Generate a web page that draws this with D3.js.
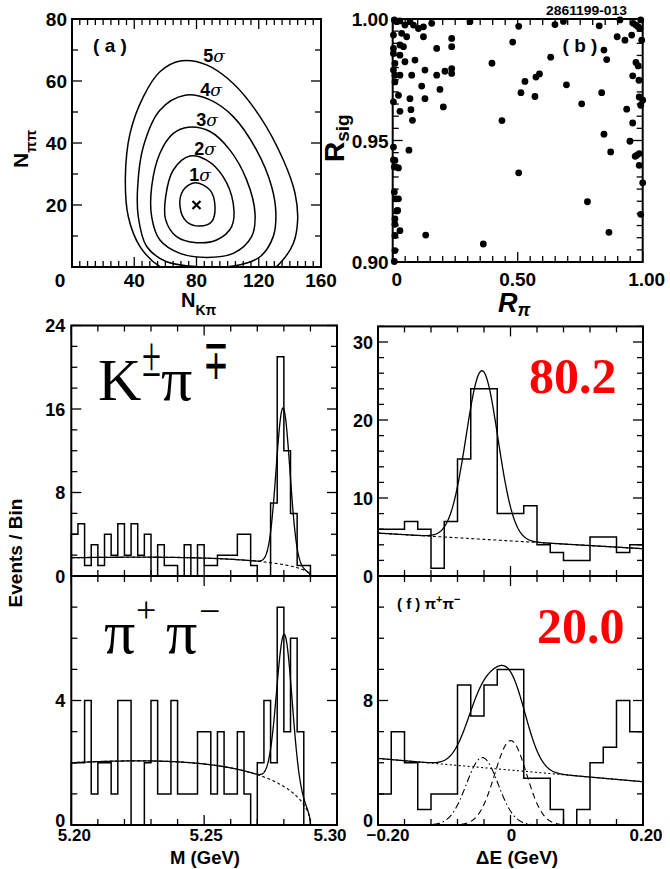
<!DOCTYPE html>
<html>
<head>
<meta charset="utf-8">
<script src="https://cdn.jsdelivr.net/npm/d3@7"></script>
<style>
  body { margin: 0; background: #fff; }
  svg { display: block; }
  text { font-family: "Liberation Sans", Arial, sans-serif; font-weight: bold; fill: #000; }
  .serif { font-family: "Liberation Serif", "Times New Roman", serif; font-weight: normal; }
  .serif.big { font-weight: bold; fill: #ff0000; }
</style>
</head>
<body>
<svg id="chart" width="670" height="869"></svg>
<script>
// ---------- data ----------

// (a) likelihood contours, [N_Kpi, N_pipi]
const contour1 = [[79,27.2],[88.7,24.8],[91.9,19.5],[89.7,14.6],[82.2,13.2],[73.7,14.6],[69.4,19.5],[71.5,24.8]];
const contour2 = [[75.8,35.8],[86.5,34.5],[97.2,29.1],[103.6,20.5],[102.6,13],[92.9,8.7],[80.1,7.85],[67.2,9.8],[60.2,15.2],[60.2,22.7],[65.1,31.3]];
const contour3 = [[74.7,45.1],[88.7,43.7],[101.5,37.7],[112.2,28.1],[117.6,17.3],[115.4,9.8],[103.6,4.4],[86.5,3.1],[69.4,4.4],[56.5,8.7],[51.2,16.2],[51.2,25.9],[56.5,36.7],[65.1,43.1]];
const contour4 = [[72.6,55.4],[88.7,53.9],[103.6,48.5],[118.6,37.7],[128.3,25.9],[131,17.3],[129.3,9.8],[120.8,3.3],[103.6,0.3],[82.2,0.1],[60.8,1.7],[48,6.6],[42.6,16.2],[42.2,25.9],[45.8,38.8],[56.5,50.6]];
const contour5 = [[70.4,66.5],[86.5,65.2],[103.6,59.2],[120.8,48.5],[135.8,34.5],[143.3,23.8],[145,15.2],[142.2,7.6],[133.6,1.2],[125,-2],[93,-6],[56.5,0.1],[43.7,6.6],[36.2,16.2],[34.3,29.1],[37.3,43.1],[45.8,54.9],[56.5,63]];
const contours = [contour1, contour2, contour3, contour4, contour5];
const sigmaLabels = ["1", "2", "3", "4", "5"];
const bestFit = [80, 20];

// (b) events, [R_pi, R_sig]
const events = [
  [0.0065,0.9996],[0.016,0.9989],[0.029,0.9992],[0.049,0.9975],[0.069,0.9989],[0.083,0.9975],[0.103,0.9961],
  [0.123,0.9968],[0.156,0.9982],[0.309,0.9989],[0.003,0.9934],[0.036,0.9941],[0.056,0.9927],[0.123,0.9927],
  [0.236,0.992],[0.003,0.9879],[0.029,0.9893],[0.043,0.9886],[0.176,0.9879],[0.236,0.9886],[0.003,0.9858],
  [0.029,0.9851],[0.089,0.9831],[0.009,0.9817],[0.049,0.9824],[0.003,0.979],[0.029,0.9769],[0.076,0.9769],
  [0.129,0.979],[0.176,0.9769],[0.209,0.9785],[0.236,0.9796],[0.236,0.9776],[0.009,0.9769],[0.009,0.9741],
  [0.116,0.9724],[0.189,0.971],[0.023,0.9686],[0.069,0.9672],[0.129,0.9672],[0.003,0.9659],[0.029,0.962],
  [0.073,0.9627],[0.2025,0.9638],[0.079,0.9583],[0.003,0.9473],[0.065,0.946],[0.009,0.9418],[0.0065,0.9391],
  [0.023,0.9387],[0.003,0.942],[0.0065,0.9288],[0.012,0.926],[0.023,0.926],[0.02,0.9212],[0.016,0.921],
  [0.009,0.9177],[0.009,0.9155],[0.029,0.9129],[0.009,0.9109],[0.132,0.9111],[0.009,0.9047],[0.0065,0.9002],
  [0.3625,0.9074],[0.397,0.9818],[0.437,0.9582],[0.48,0.9905],[0.504,0.997],[0.504,0.9367],[0.529,0.9743],
  [0.513,0.9697],[0.569,0.9681],[0.573,0.9761],[0.587,0.9774],[0.632,0.9843],[0.649,0.9977],[0.683,0.999],
  [0.695,0.9729],[0.756,0.9651],[0.779,0.9248],[0.826,0.9972],[0.909,0.9996],[0.962,0.9982],[0.982,0.9968],
  [0.992,0.9996],[0.989,0.9961],[0.973,0.9975],[0.898,0.9927],[0.929,0.9913],[0.956,0.9934],[0.996,0.9913],
  [0.845,0.9872],[0.856,0.9833],[0.973,0.9821],[0.982,0.9807],[0.96,0.9766],[0.985,0.9748],[0.836,0.9697],
  [0.986,0.9679],[1.0,0.9666],[0.992,0.9645],[0.936,0.9629],[0.96,0.9572],[0.845,0.9526],[0.949,0.9497],
  [0.872,0.9453],[0.976,0.9439],[0.986,0.9446],[0.970,0.9435],[0.986,0.9398],[1.0,0.9326],[0.992,0.9196],
  [0.865,0.9122]
];

// (c),(e) beam-constrained mass histograms, 40 bins 5.20-5.30 GeV
const massRange = [5.20, 5.30];
const kpiMass  = [4,5,1,3,1,4,2,5,2,5,2,4,0,3,1,1,0,3,0,3,1,1,2,2,2,4,4,1,0,0,7,21,12,6,1,1,0,0,0,0];
const pipiMass = [2,2,4,1,2,2,1,4,4,0,0,2,4,1,1,4,1,1,1,3,3,1,3,1,1,3,1,0,2,4,2,7,3,6,3,0,0,0,0,0];

// (d),(f) Delta E histograms, 20 bins -0.20..0.20 GeV
const deRange = [-0.20, 0.20];
const kpiDE  = [6,6,7,6,1,7,15,24,24,8,8,9,4,3,2,2,5,5,3,4];
const pipiDE = [2,6,4,1,2,2,9,7,9,10,10,3,3,1,0,1,4,5,8,6];

// fit parameters: ARGUS endpoint/shape, bkg level at 5.20, peak [mean, sigma, height]
const argus = [5.29, 20];
const kpiMassBkg = 1.75, kpiMassPeak = [5.2797, 0.0026, 15.0];
const pipiMassBkg = 2.0, pipiMassPeak = [5.2802, 0.0029, 4.9];
// Delta E: linear bkg [at -0.2, at 0.2], gaussians [mean, sigma, height]
const kpiDEBkg = [5.5, 3.5], kpiDEPeak = [-0.043, 0.024, 21.6];
const pipiDEBkg = [4.28, 2.78], pipiDEKpi = [-0.0426, 0.024, 4.33], pipiDESig = [0.0003, 0.024, 5.42];

// ---------- helpers ----------
const svg = d3.select("#chart");

function makePanel(x0, x1, y0, y1, xDom, yDom) {
  return {
    x: d3.scaleLinear().domain(xDom).range([x0, x1]),
    y: d3.scaleLinear().domain(yDom).range([y1, y0]),
    x0, x1, y0, y1
  };
}

function isMultiple(v, step, origin) {
  const r = (v - origin) / step;
  return Math.abs(r - Math.round(r)) < 1e-6;
}

function drawFrame(p, xStep, xMajor, yStep, yMajor) {
  const g = svg.append("g").attr("stroke", "#000").attr("fill", "none");
  const [xa, xb] = p.x.domain(), [ya, yb] = p.y.domain();
  const xt = d3.range(xa, xb + xStep / 2, xStep);
  const yt = d3.range(ya, yb + yStep / 2, yStep);
  xt.forEach(v => {
    const len = isMultiple(v, xMajor, 0) ? 10 : 6;
    const px = p.x(v);
    g.append("line").attr("x1", px).attr("x2", px).attr("y1", p.y1).attr("y2", p.y1 - len).attr("stroke-width", 1.3);
    g.append("line").attr("x1", px).attr("x2", px).attr("y1", p.y0).attr("y2", p.y0 + len).attr("stroke-width", 1.3);
  });
  yt.forEach(v => {
    const len = isMultiple(v, yMajor, 0) ? 10 : 6;
    const py = p.y(v);
    g.append("line").attr("y1", py).attr("y2", py).attr("x1", p.x0).attr("x2", p.x0 + len).attr("stroke-width", 1.3);
    g.append("line").attr("y1", py).attr("y2", py).attr("x1", p.x1).attr("x2", p.x1 - len).attr("stroke-width", 1.3);
  });
  g.append("rect")
    .attr("x", p.x0).attr("y", p.y0)
    .attr("width", p.x1 - p.x0).attr("height", p.y1 - p.y0)
    .attr("stroke-width", 2);
}

function label(x, y, txt, size, anchor) {
  return svg.append("text").attr("x", x).attr("y", y)
    .attr("font-size", size).attr("text-anchor", anchor || "middle").text(txt);
}

function serif(x, y, txt, size) {
  return svg.append("text").attr("class", "serif").attr("x", x).attr("y", y)
    .attr("font-size", size).text(txt);
}

function histPath(p, range, values) {
  const n = values.length, w = (range[1] - range[0]) / n;
  const pts = [[range[0], 0]];
  values.forEach((v, i) => {
    pts.push([range[0] + i * w, v]);
    pts.push([range[0] + (i + 1) * w, v]);
  });
  pts.push([range[1], 0]);
  svg.append("path")
    .attr("d", d3.line().x(d => p.x(d[0])).y(d => p.y(d[1]))(pts))
    .attr("fill", "none").attr("stroke", "#000").attr("stroke-width", 1.5);
}

function curve(p, lo, hi, f, dash, width) {
  const pts = d3.range(0, 501).map(i => {
    const m = lo + (hi - lo) * i / 500;
    return [m, f(m)];
  });
  svg.append("path")
    .attr("d", d3.line().x(d => p.x(d[0])).y(d => p.y(d[1]))(pts))
    .attr("fill", "none").attr("stroke", "#000")
    .attr("stroke-width", width || 1.3)
    .attr("stroke-dasharray", dash || null);
}

const gauss = (m, par) => par[2] * Math.exp(-((m - par[0]) ** 2) / (2 * par[1] * par[1]));
function argusShape(m) {
  const z = 1 - (m / argus[0]) ** 2;
  return z <= 0 ? 0 : m * Math.sqrt(z) * Math.exp(-argus[1] * z);
}
const argusAt = (m, level) => level * argusShape(m) / argusShape(massRange[0]);
const lin = (m, ends) => ends[0] + (ends[1] - ends[0]) * (m - deRange[0]) / (deRange[1] - deRange[0]);

// ---------- panel (a): contours ----------
const pa = makePanel(72, 321, 19, 267, [0, 160], [0, 80]);
svg.append("clipPath").attr("id", "clipA").append("rect")
  .attr("x", pa.x0).attr("y", pa.y0).attr("width", pa.x1 - pa.x0).attr("height", pa.y1 - pa.y0);
const contourLine = d3.line().x(d => pa.x(d[0])).y(d => pa.y(d[1])).curve(d3.curveCatmullRomClosed.alpha(0.5));
svg.append("g").attr("clip-path", "url(#clipA)")
  .selectAll("path").data(contours).join("path")
  .attr("d", contourLine)
  .attr("fill", "none").attr("stroke", "#000").attr("stroke-width", 1.5);

const bx = pa.x(bestFit[0]), by = pa.y(bestFit[1]);
svg.append("path").attr("d", `M${bx-4},${by-4}L${bx+4},${by+4}M${bx-4},${by+4}L${bx+4},${by-4}`)
  .attr("stroke", "#000").attr("stroke-width", 2.2);

// sigma labels sit just above each contour top
const sigmaPos = [[200, 181], [205, 155], [207, 126], [211, 96], [214, 62]];
sigmaLabels.forEach((s, i) => {
  const t = svg.append("text").attr("x", sigmaPos[i][0]).attr("y", sigmaPos[i][1])
    .attr("font-size", 18).attr("text-anchor", "middle");
  t.append("tspan").text(s);
  t.append("tspan").attr("font-style", "italic").attr("font-weight", "normal")
    .attr("font-family", "DejaVu Serif, serif").attr("font-size", 17).text("σ");
});
drawFrame(pa, 5, 40, 10, 20);
label(110, 52, "( a )", 19);
[20, 40, 60, 80].forEach(v => label(pa.x0 - 5, pa.y(v) + 6.5, v, 19, "end"));
[40, 80, 120, 160].forEach(v => label(pa.x(v), 287, v, 19));
label(60, 287, "0", 19);
{
  const t = svg.append("text").attr("x", 181).attr("y", 307).attr("font-size", 20);
  t.append("tspan").text("N");
  t.append("tspan").attr("font-size", 14).attr("dy", 8).text("Kπ");
}
{
  const t = svg.append("text").attr("transform", "translate(28,168) rotate(-90)").attr("font-size", 21);
  t.append("tspan").text("N");
  t.append("tspan").attr("font-size", 15).attr("dy", 8).text("ππ");
}

// ---------- panel (b): scatter ----------
const pb = makePanel(392.7, 642.7, 19, 262, [0, 1], [0.90, 1.00]);
svg.append("g").selectAll("circle").data(events).join("circle")
  .attr("cx", d => pb.x(d[0])).attr("cy", d => pb.y(d[1])).attr("r", 3.4).attr("fill", "#000");
drawFrame(pb, 0.05, 0.5, 0.005, 0.05);
label(580, 52, "( b )", 19);
svg.append("text").attr("x", 546).attr("y", 15).attr("font-size", 12)
  .attr("textLength", 81).attr("lengthAdjust", "spacingAndGlyphs").text("2861199-013");
[[0.90, "0.90"], [0.95, "0.95"], [1.00, "1.00"]].forEach(d => label(pb.x0 - 4, pb.y(d[0]) + 7, d[1], 19, "end"));
label(pb.x(0) + 4, 286, "0", 19);
label(pb.x(0.5), 286, "0.50", 19);
label(pb.x(1) + 4, 286, "1.00", 19);
{
  const t = svg.append("text").attr("x", 498).attr("y", 312).attr("font-size", 27)
    .attr("font-style", "italic").attr("font-weight", "normal");
  t.append("tspan").text("R");
  t.append("tspan").attr("font-size", 18).attr("dy", 4).text("π");
}
{
  const t = svg.append("text").attr("transform", "translate(344,162) rotate(-90)")
    .attr("font-size", 28).attr("font-weight", "normal");
  t.append("tspan").text("R");
  t.append("tspan").attr("font-size", 19).attr("dy", 5).text("sig");
}

// ---------- panel (c): K pi mass ----------
const pc = makePanel(71.3, 337, 325.5, 576, massRange, [0, 24]);
histPath(pc, massRange, kpiMass);
curve(pc, 5.20, 5.29, m => argusAt(m, kpiMassBkg), "3,2.5", 1.1);
curve(pc, 5.20, 5.29, m => argusAt(m, kpiMassBkg) + gauss(m, kpiMassPeak), null, 1.3);
drawFrame(pc, 0.01, 0.05, 2, 8);
[[8, "8"], [16, "16"], [24, "24"]].forEach(d => label(pc.x0 - 6, pc.y(d[0]) + 6.5, d[1], 18, "end"));
label(pc.x0 - 6, pc.y(0) + 6.5, "0", 18, "end");
serif(98, 400, "K", 60);
serif(142, 376, "±", 56).attr("textLength", 19).attr("lengthAdjust", "spacingAndGlyphs");
serif(161, 400, "π", 62);
serif(203, 379, "∓", 56).attr("textLength", 26).attr("lengthAdjust", "spacingAndGlyphs");

// ---------- panel (e): pi pi mass ----------
const pe = makePanel(71.3, 337, 576, 825, massRange, [0, 8]);
histPath(pe, massRange, pipiMass);
curve(pe, 5.20, 5.29, m => argusAt(m, pipiMassBkg), "3,2.5", 1.1);
curve(pe, 5.20, 5.29, m => argusAt(m, pipiMassBkg) + gauss(m, pipiMassPeak), null, 1.3);
drawFrame(pe, 0.01, 0.05, 1, 4);
label(pe.x0 - 6, pe.y(4) + 6.5, "4", 18, "end");
label(pe.x0 - 6, pe.y(0) + 1.5, "0", 18, "end");
label(pe.x(5.20) + 3, 841, "5.20", 17);
label(pe.x(5.25) + 2, 841, "5.25", 17);
label(pe.x(5.30) - 7, 841, "5.30", 17);
label(205, 864, "M (GeV)", 18.5);
serif(104, 653, "π", 62);
serif(136, 622, "+", 36);
serif(166, 653, "π", 62);
serif(199, 624, "−", 38);
svg.append("text").attr("transform", "translate(22,553) rotate(-90)").attr("font-size", 19)
  .attr("text-anchor", "middle").text("Events / Bin");

// ---------- panel (d): K pi Delta E ----------
const pd = makePanel(378, 643, 326.4, 576, deRange, [0, 32]);
histPath(pd, deRange, kpiDE);
curve(pd, -0.2, 0.2, m => lin(m, kpiDEBkg), "3,2.5", 1.1);
curve(pd, -0.2, 0.2, m => lin(m, kpiDEBkg) + gauss(m, kpiDEPeak), null, 1.3);
drawFrame(pd, 0.04, 0.2, 2, 10);
[[10, "10"], [20, "20"], [30, "30"]].forEach(d => label(pd.x0 - 5, pd.y(d[0]) + 6.5, d[1], 18, "end"));
label(pd.x0 - 5, pd.y(0) + 6.5, "0", 18, "end");
serif(529, 393, "80.2", 50).classed("big", true);

// ---------- panel (f): pi pi Delta E ----------
const pf = makePanel(378, 643, 576, 825, deRange, [0, 16]);
histPath(pf, deRange, pipiDE);
curve(pf, -0.2, 0.2, m => lin(m, pipiDEBkg), "2,2.5", 1.1);
curve(pf, pipiDEKpi[0] - 3.1 * pipiDEKpi[1], pipiDEKpi[0] + 3.1 * pipiDEKpi[1], m => gauss(m, pipiDEKpi), "7,3,1.5,3", 1.1);
curve(pf, pipiDESig[0] - 3.1 * pipiDESig[1], pipiDESig[0] + 3.1 * pipiDESig[1], m => gauss(m, pipiDESig), "6,4", 1.1);
curve(pf, -0.2, 0.2, m => lin(m, pipiDEBkg) + gauss(m, pipiDEKpi) + gauss(m, pipiDESig), null, 1.3);
drawFrame(pf, 0.04, 0.2, 2, 8);
label(pf.x0 - 5, pf.y(8) + 6.5, "8", 18, "end");
label(pf.x0 - 5, pf.y(0) + 1.5, "0", 18, "end");
label(pf.x(-0.2) + 10, 841, "−0.20", 17);
label(pf.x(0) + 1, 841, "0", 17);
label(pf.x(0.2) + 3, 841, "0.20", 17);
label(517, 864, "ΔE (GeV)", 19);
serif(537, 643, "20.0", 50).classed("big", true);
{
  const t = svg.append("text").attr("x", 397).attr("y", 609).attr("font-size", 15);
  t.append("tspan").text("( f ) π");
  t.append("tspan").attr("font-size", 11).attr("dy", -6).text("+");
  t.append("tspan").attr("dy", 6).text("π");
  t.append("tspan").attr("font-size", 11).attr("dy", -6).text("−");
}
</script>
</body>
</html>
